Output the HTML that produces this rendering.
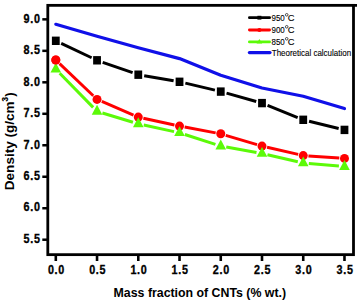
<!DOCTYPE html>
<html><head><meta charset="utf-8"><style>
html,body{margin:0;padding:0;background:#fff;}
svg{display:block;}
.tl{font-family:"Liberation Sans",sans-serif;font-weight:bold;fill:#000;}
.ax{font-family:"Liberation Sans",sans-serif;font-weight:bold;fill:#000;}
.lg{font-family:"Liberation Sans",sans-serif;fill:#000;}
</style></head><body>
<svg width="357" height="302" viewBox="0 0 357 302">
<rect width="357" height="302" fill="#fff"/>
<polyline points="55.80,24.30 97.04,36.30 138.28,47.80 179.52,58.60 220.76,75.30 262.00,88.00 303.24,96.20 344.48,108.50" fill="none" stroke="#1010e8" stroke-width="3.2" stroke-linejoin="round" stroke-linecap="round"/>
<line x1="61.22" y1="43.36" x2="91.62" y2="57.74" stroke="#000" stroke-width="2.9"/>
<line x1="102.70" y1="62.28" x2="132.62" y2="72.72" stroke="#000" stroke-width="2.9"/>
<line x1="144.19" y1="75.72" x2="173.61" y2="80.78" stroke="#000" stroke-width="2.9"/>
<line x1="185.36" y1="83.19" x2="214.92" y2="90.21" stroke="#000" stroke-width="2.9"/>
<line x1="226.54" y1="93.21" x2="256.22" y2="101.49" stroke="#000" stroke-width="2.9"/>
<line x1="267.56" y1="105.35" x2="297.68" y2="117.55" stroke="#000" stroke-width="2.9"/>
<line x1="309.07" y1="121.23" x2="338.65" y2="128.47" stroke="#000" stroke-width="2.9"/>
<rect x="51.90" y="36.60" width="7.8" height="8.4" fill="#000"/>
<rect x="93.14" y="56.10" width="7.8" height="8.4" fill="#000"/>
<rect x="134.38" y="70.50" width="7.8" height="8.4" fill="#000"/>
<rect x="175.62" y="77.60" width="7.8" height="8.4" fill="#000"/>
<rect x="216.86" y="87.40" width="7.8" height="8.4" fill="#000"/>
<rect x="258.10" y="98.90" width="7.8" height="8.4" fill="#000"/>
<rect x="299.34" y="115.60" width="7.8" height="8.4" fill="#000"/>
<rect x="340.58" y="125.70" width="7.8" height="8.4" fill="#000"/>
<line x1="59.72" y1="73.30" x2="93.12" y2="107.40" stroke="#5cfa08" stroke-width="3.0"/>
<line x1="102.40" y1="113.02" x2="132.92" y2="122.28" stroke="#5cfa08" stroke-width="3.0"/>
<line x1="143.75" y1="125.08" x2="174.05" y2="131.62" stroke="#5cfa08" stroke-width="3.0"/>
<line x1="184.85" y1="134.52" x2="215.43" y2="144.38" stroke="#5cfa08" stroke-width="3.0"/>
<line x1="226.27" y1="147.09" x2="256.49" y2="152.51" stroke="#5cfa08" stroke-width="3.0"/>
<line x1="267.46" y1="154.76" x2="297.78" y2="161.74" stroke="#5cfa08" stroke-width="3.0"/>
<line x1="308.82" y1="163.49" x2="338.90" y2="166.11" stroke="#5cfa08" stroke-width="3.0"/>
<line x1="59.56" y1="63.59" x2="93.28" y2="95.81" stroke="#f00" stroke-width="2.9"/>
<line x1="101.82" y1="101.45" x2="133.50" y2="115.05" stroke="#f00" stroke-width="2.9"/>
<line x1="143.36" y1="118.21" x2="174.44" y2="124.99" stroke="#f00" stroke-width="2.9"/>
<line x1="184.63" y1="127.05" x2="215.65" y2="132.85" stroke="#f00" stroke-width="2.9"/>
<line x1="225.74" y1="135.29" x2="257.02" y2="144.61" stroke="#f00" stroke-width="2.9"/>
<line x1="267.07" y1="147.27" x2="298.17" y2="154.43" stroke="#f00" stroke-width="2.9"/>
<line x1="308.43" y1="155.95" x2="339.29" y2="158.05" stroke="#f00" stroke-width="2.9"/>
<circle cx="55.80" cy="60.00" r="4.5" fill="#f00"/>
<circle cx="97.04" cy="99.40" r="4.5" fill="#f00"/>
<circle cx="138.28" cy="117.10" r="4.5" fill="#f00"/>
<circle cx="179.52" cy="126.10" r="4.5" fill="#f00"/>
<circle cx="220.76" cy="133.80" r="4.5" fill="#f00"/>
<circle cx="262.00" cy="146.10" r="4.5" fill="#f00"/>
<circle cx="303.24" cy="155.60" r="4.5" fill="#f00"/>
<circle cx="344.48" cy="158.40" r="4.5" fill="#f00"/>
<polygon points="55.80,62.70 61.10,72.60 50.50,72.60" fill="#5cfa08"/>
<polygon points="97.04,104.80 102.34,114.70 91.74,114.70" fill="#5cfa08"/>
<polygon points="138.28,117.30 143.58,127.20 132.98,127.20" fill="#5cfa08"/>
<polygon points="179.52,126.20 184.82,136.10 174.22,136.10" fill="#5cfa08"/>
<polygon points="220.76,139.50 226.06,149.40 215.46,149.40" fill="#5cfa08"/>
<polygon points="262.00,146.90 267.30,156.80 256.70,156.80" fill="#5cfa08"/>
<polygon points="303.24,156.40 308.54,166.30 297.94,166.30" fill="#5cfa08"/>
<polygon points="344.48,160.00 349.78,169.90 339.18,169.90" fill="#5cfa08"/>
<circle cx="55.80" cy="60.00" r="4.5" fill="#f00"/>
<rect x="47.8" y="5.35" width="305.7" height="249.3" fill="none" stroke="#000" stroke-width="2.8"/>
<line x1="353" y1="5.35" x2="356.3" y2="5.35" stroke="#000" stroke-width="2.9" stroke-linecap="round"/>
<line x1="42.3" y1="19.35" x2="47.8" y2="19.35" stroke="#000" stroke-width="2.5"/>
<text transform="translate(23.6,22.60) scale(0.9,1)" class="tl" font-size="12" letter-spacing="0.8" stroke="#000" stroke-width="0.3">9.0</text>
<line x1="42.3" y1="50.83" x2="47.8" y2="50.83" stroke="#000" stroke-width="2.5"/>
<text transform="translate(23.6,54.08) scale(0.9,1)" class="tl" font-size="12" letter-spacing="0.8" stroke="#000" stroke-width="0.3">8.5</text>
<line x1="42.3" y1="82.31" x2="47.8" y2="82.31" stroke="#000" stroke-width="2.5"/>
<text transform="translate(23.6,85.56) scale(0.9,1)" class="tl" font-size="12" letter-spacing="0.8" stroke="#000" stroke-width="0.3">8.0</text>
<line x1="42.3" y1="113.79" x2="47.8" y2="113.79" stroke="#000" stroke-width="2.5"/>
<text transform="translate(23.6,117.04) scale(0.9,1)" class="tl" font-size="12" letter-spacing="0.8" stroke="#000" stroke-width="0.3">7.5</text>
<line x1="42.3" y1="145.27" x2="47.8" y2="145.27" stroke="#000" stroke-width="2.5"/>
<text transform="translate(23.6,148.52) scale(0.9,1)" class="tl" font-size="12" letter-spacing="0.8" stroke="#000" stroke-width="0.3">7.0</text>
<line x1="42.3" y1="176.75" x2="47.8" y2="176.75" stroke="#000" stroke-width="2.5"/>
<text transform="translate(23.6,180.00) scale(0.9,1)" class="tl" font-size="12" letter-spacing="0.8" stroke="#000" stroke-width="0.3">6.5</text>
<line x1="42.3" y1="208.23" x2="47.8" y2="208.23" stroke="#000" stroke-width="2.5"/>
<text transform="translate(23.6,211.48) scale(0.9,1)" class="tl" font-size="12" letter-spacing="0.8" stroke="#000" stroke-width="0.3">6.0</text>
<line x1="42.3" y1="239.71" x2="47.8" y2="239.71" stroke="#000" stroke-width="2.5"/>
<text transform="translate(23.6,242.96) scale(0.9,1)" class="tl" font-size="12" letter-spacing="0.8" stroke="#000" stroke-width="0.3">5.5</text>
<line x1="55.80" y1="254.6" x2="55.80" y2="261" stroke="#000" stroke-width="2.6"/>
<text transform="translate(47.90,273.6) scale(0.9,1)" class="tl" font-size="12" letter-spacing="0.8" stroke="#000" stroke-width="0.3">0.0</text>
<line x1="97.04" y1="254.6" x2="97.04" y2="261" stroke="#000" stroke-width="2.6"/>
<text transform="translate(89.14,273.6) scale(0.9,1)" class="tl" font-size="12" letter-spacing="0.8" stroke="#000" stroke-width="0.3">0.5</text>
<line x1="138.28" y1="254.6" x2="138.28" y2="261" stroke="#000" stroke-width="2.6"/>
<text transform="translate(130.38,273.6) scale(0.9,1)" class="tl" font-size="12" letter-spacing="0.8" stroke="#000" stroke-width="0.3">1.0</text>
<line x1="179.52" y1="254.6" x2="179.52" y2="261" stroke="#000" stroke-width="2.6"/>
<text transform="translate(171.62,273.6) scale(0.9,1)" class="tl" font-size="12" letter-spacing="0.8" stroke="#000" stroke-width="0.3">1.5</text>
<line x1="220.76" y1="254.6" x2="220.76" y2="261" stroke="#000" stroke-width="2.6"/>
<text transform="translate(212.86,273.6) scale(0.9,1)" class="tl" font-size="12" letter-spacing="0.8" stroke="#000" stroke-width="0.3">2.0</text>
<line x1="262.00" y1="254.6" x2="262.00" y2="261" stroke="#000" stroke-width="2.6"/>
<text transform="translate(254.10,273.6) scale(0.9,1)" class="tl" font-size="12" letter-spacing="0.8" stroke="#000" stroke-width="0.3">2.5</text>
<line x1="303.24" y1="254.6" x2="303.24" y2="261" stroke="#000" stroke-width="2.6"/>
<text transform="translate(295.34,273.6) scale(0.9,1)" class="tl" font-size="12" letter-spacing="0.8" stroke="#000" stroke-width="0.3">3.0</text>
<line x1="344.48" y1="254.6" x2="344.48" y2="261" stroke="#000" stroke-width="2.6"/>
<text transform="translate(336.58,273.6) scale(0.9,1)" class="tl" font-size="12" letter-spacing="0.8" stroke="#000" stroke-width="0.3">3.5</text>
<text x="113.6" y="296.9" class="ax" font-size="12" textLength="172.5" lengthAdjust="spacingAndGlyphs">Mass fraction of CNTs (% wt.)</text>
<text transform="translate(13.9,190.2) rotate(-90) scale(1.13,1)" class="ax" font-size="12">Density (g/cm</text>
<text transform="translate(7.9,101.5) rotate(-90) scale(0.85,1)" class="ax" font-size="9.5" font-weight="normal" stroke="#000" stroke-width="0.2">3</text>
<text transform="translate(14.2,96.7) rotate(-90)" class="ax" font-size="13">)</text>
<line x1="249.4" y1="17.7" x2="269.6" y2="17.7" stroke="#000" stroke-width="2.8" stroke-linecap="round"/>
<rect x="257.4" y="15.799999999999999" width="4" height="3.8" fill="#000"/>
<text transform="translate(271.5,21) scale(0.83,1)" class="lg" font-size="9.6" stroke="#000" stroke-width="0.12">950</text>
<circle cx="286.7" cy="14.80" r="1.3" fill="none" stroke="#222" stroke-width="0.8"/>
<text x="287.7" y="21" class="lg" font-size="9.4" stroke="#000" stroke-width="0.12">C</text>
<line x1="249.4" y1="30.0" x2="269.6" y2="30.0" stroke="#f00" stroke-width="2.8" stroke-linecap="round"/>
<circle cx="259.4" cy="30.0" r="2.1" fill="#f00"/>
<text transform="translate(271.5,33) scale(0.83,1)" class="lg" font-size="9.6" stroke="#000" stroke-width="0.12">900</text>
<circle cx="286.7" cy="26.80" r="1.3" fill="none" stroke="#222" stroke-width="0.8"/>
<text x="287.7" y="33" class="lg" font-size="9.4" stroke="#000" stroke-width="0.12">C</text>
<line x1="249.4" y1="41.9" x2="269.6" y2="41.9" stroke="#5cfa08" stroke-width="2.8" stroke-linecap="round"/>
<polygon points="259.4,39.1 262.2,43.4 256.6,43.4" fill="#5cfa08"/>
<text transform="translate(271.5,45) scale(0.83,1)" class="lg" font-size="9.6" stroke="#000" stroke-width="0.12">850</text>
<circle cx="286.7" cy="38.80" r="1.3" fill="none" stroke="#222" stroke-width="0.8"/>
<text x="287.7" y="45" class="lg" font-size="9.4" stroke="#000" stroke-width="0.12">C</text>
<line x1="249.4" y1="52.6" x2="270" y2="52.6" stroke="#1010e8" stroke-width="3.2" stroke-linecap="round"/>
<text x="271.8" y="56" class="lg" font-size="9.2" textLength="79.3" lengthAdjust="spacingAndGlyphs" stroke="#000" stroke-width="0.12">Theoretical calculation</text>
</svg>
</body></html>
